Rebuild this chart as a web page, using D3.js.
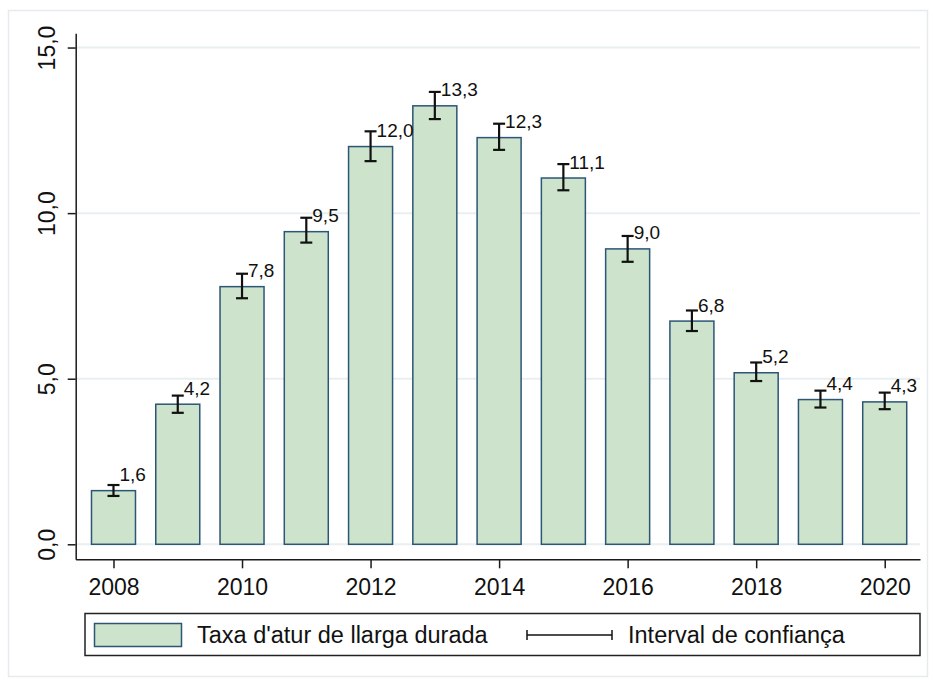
<!DOCTYPE html>
<html>
<head>
<meta charset="utf-8">
<script src="https://cdn.jsdelivr.net/npm/d3@7"></script>
<style>
  html, body { margin: 0; padding: 0; background: #fff; }
  svg { display: block; font-family: "Liberation Sans", Arial, sans-serif; }
</style>
</head>
<body>
<div id="chart"></div>
<script>
const years   = [2008, 2009, 2010, 2011, 2012, 2013, 2014, 2015, 2016, 2017, 2018, 2019, 2020];
const rates   = [1.62, 4.23, 7.78, 9.44, 12.01, 13.24, 12.28, 11.06, 8.92, 6.74, 5.18, 4.37, 4.30];
const ciLow   = [1.46, 3.97, 7.43, 9.11, 11.57, 12.84, 11.91, 10.69, 8.53, 6.44, 4.93, 4.13, 4.08];
const ciHigh  = [1.79, 4.49, 8.17, 9.86, 12.47, 13.66, 12.70, 11.48, 9.31, 7.06, 5.49, 4.64, 4.58];
const rateLabels = ["1,6", "4,2", "7,8", "9,5", "12,0", "13,3", "12,3", "11,1", "9,0", "6,8", "5,2", "4,4", "4,3"];
const yTicks  = [0, 5, 10, 15];
const xTicks  = [2008, 2010, 2012, 2014, 2016, 2018, 2020];
const legendLabels = ["Taxa d'atur de llarga durada", "Interval de confiança"];

const W = 935, H = 681;
const BAR_FILL   = "#cde3cc";
const BAR_STROKE = "#2b5676";
const GRID       = "#e9eff1";
const AXIS       = "#1a1a1a";
const FONT       = "Liberation Sans, Arial, sans-serif";

const data = years.map((yr, i) => ({
  year: yr, rate: rates[i], lo: ciLow[i], hi: ciHigh[i], label: rateLabels[i]
}));

const svg = d3.select("#chart").append("svg")
  .attr("width", W).attr("height", H);

// outer frame
svg.append("rect")
  .attr("x", 8.5).attr("y", 10.5)
  .attr("width", 919).attr("height", 666)
  .attr("fill", "#fff").attr("stroke", "#e6ecee").attr("stroke-width", 1.5);

const x = d3.scaleLinear().domain([2007.412, 2020.549]).range([75.7, 920]);
const y = d3.scaleLinear().domain([-0.453, 15.43]).range([559.3, 33.3]);
const barW = 44;

// gridlines
svg.append("g")
  .selectAll("line")
  .data(yTicks)
  .join("line")
    .attr("x1", x.range()[0]).attr("x2", x.range()[1])
    .attr("y1", d => y(d)).attr("y2", d => y(d))
    .attr("stroke", GRID).attr("stroke-width", 2);

// y axis
const yAxis = svg.append("g")
  .attr("transform", `translate(${x.range()[0]},0)`)
  .call(d3.axisLeft(y).tickValues(yTicks).tickSize(8).tickSizeOuter(0)
    .tickFormat(d => d3.format(".1f")(d).replace(".", ",")));
yAxis.select(".domain").attr("stroke", AXIS).attr("stroke-width", 1.5);
yAxis.selectAll(".tick line").attr("stroke", AXIS).attr("stroke-width", 1.5);
yAxis.selectAll(".tick text")
  .attr("x", null).attr("dy", null)
  .attr("transform", "translate(-20.5,0) rotate(-90)")
  .attr("text-anchor", "middle")
  .attr("font-size", 23).attr("fill", "#111")
  .attr("font-family", FONT);

// x axis
const xAxis = svg.append("g")
  .attr("transform", `translate(0,${y.range()[0]})`)
  .call(d3.axisBottom(x).tickValues(xTicks).tickSize(9).tickSizeOuter(0).tickFormat(d3.format("d")));
xAxis.select(".domain").attr("stroke", AXIS).attr("stroke-width", 1.5);
xAxis.selectAll(".tick line").attr("stroke", AXIS).attr("stroke-width", 1.5);
xAxis.selectAll(".tick text")
  .attr("y", 36).attr("dy", null)
  .attr("font-size", 23).attr("fill", "#111")
  .attr("font-family", FONT);

// bars
svg.append("g")
  .selectAll("rect")
  .data(data)
  .join("rect")
    .attr("x", d => x(d.year) - barW / 2)
    .attr("y", d => y(d.rate))
    .attr("width", barW)
    .attr("height", d => y(0) - y(d.rate))
    .attr("fill", BAR_FILL)
    .attr("stroke", BAR_STROKE).attr("stroke-width", 1.5);

// confidence intervals
const ci = svg.append("g").attr("stroke", "#111").attr("stroke-width", 2.2);
const CAP = 6;
data.forEach(d => {
  const cx = x(d.year);
  ci.append("line").attr("x1", cx).attr("x2", cx).attr("y1", y(d.lo)).attr("y2", y(d.hi));
  ci.append("line").attr("x1", cx - CAP).attr("x2", cx + CAP).attr("y1", y(d.lo)).attr("y2", y(d.lo));
  ci.append("line").attr("x1", cx - CAP).attr("x2", cx + CAP).attr("y1", y(d.hi)).attr("y2", y(d.hi));
});

// value labels
svg.append("g")
  .selectAll("text")
  .data(data)
  .join("text")
    .attr("x", d => x(d.year) + 6)
    .attr("y", d => y(d.rate) - 9.5)
    .attr("font-size", 19).attr("fill", "#111")
    .text(d => d.label);

// legend
const lg = svg.append("g");
lg.append("rect")
  .attr("x", 85).attr("y", 613.5).attr("width", 835).attr("height", 42)
  .attr("fill", "#fff").attr("stroke", "#222").attr("stroke-width", 1.5);
lg.append("rect")
  .attr("x", 94.5).attr("y", 623.5).attr("width", 87).attr("height", 23)
  .attr("fill", BAR_FILL).attr("stroke", BAR_STROKE).attr("stroke-width", 1.5);
lg.append("text")
  .attr("x", 197).attr("y", 643)
  .attr("font-size", 23.5).attr("fill", "#111")
  .text(legendLabels[0]);
const ly = 635;
lg.append("line").attr("x1", 527).attr("x2", 612).attr("y1", ly).attr("y2", ly)
  .attr("stroke", "#111").attr("stroke-width", 1.5);
[527, 612].forEach(px => {
  lg.append("line").attr("x1", px).attr("x2", px).attr("y1", ly - 5).attr("y2", ly + 5)
    .attr("stroke", "#111").attr("stroke-width", 1.5);
});
lg.append("text")
  .attr("x", 628).attr("y", 643)
  .attr("font-size", 23.5).attr("fill", "#111")
  .text(legendLabels[1]);
</script>
</body>
</html>
